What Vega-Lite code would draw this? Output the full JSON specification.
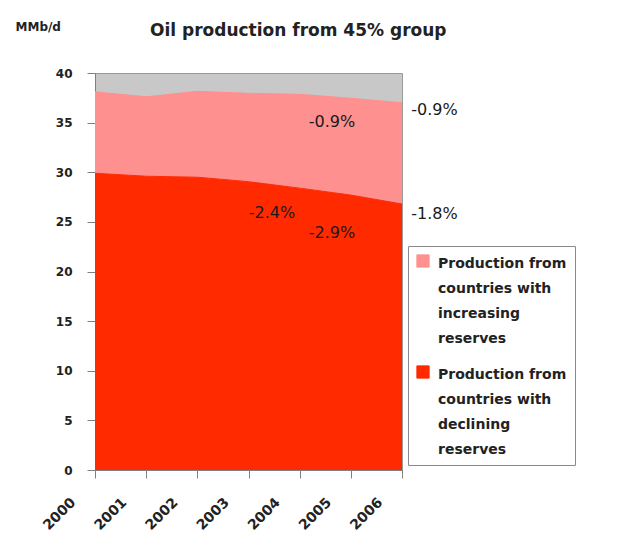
{
  "$schema": "https://vega.github.io/schema/vega-lite/v6.json",
  "width": 307,
  "height": 397,
  "autosize": {"type": "none"},
  "padding": {"left": 95, "top": 73, "right": 235, "bottom": 80},
  "background": "white",
  "config": {
    "font": "DejaVu Sans",
    "view": {"fill": "#c8c8c8", "stroke": "#9a9a9a", "strokeWidth": 1}
  },
  "title": {
    "text": "Oil production from 45% group",
    "anchor": "start",
    "frame": "group",
    "dx": 55,
    "offset": 0,
    "dy": 20,
    "fontSize": 17,
    "fontWeight": "bold",
    "color": "#222222",
    "font": "DejaVu Sans"
  },
  "datasets": {
    "prod": [
      {"year": 2000, "series": "Production from countries with declining reserves", "value": 29.9},
      {"year": 2001, "series": "Production from countries with declining reserves", "value": 29.6},
      {"year": 2002, "series": "Production from countries with declining reserves", "value": 29.5},
      {"year": 2003, "series": "Production from countries with declining reserves", "value": 29.05},
      {"year": 2004, "series": "Production from countries with declining reserves", "value": 28.4},
      {"year": 2005, "series": "Production from countries with declining reserves", "value": 27.7},
      {"year": 2006, "series": "Production from countries with declining reserves", "value": 26.8},
      {"year": 2000, "series": "Production from countries with increasing reserves", "value": 8.2},
      {"year": 2001, "series": "Production from countries with increasing reserves", "value": 8.0},
      {"year": 2002, "series": "Production from countries with increasing reserves", "value": 8.65},
      {"year": 2003, "series": "Production from countries with increasing reserves", "value": 8.9},
      {"year": 2004, "series": "Production from countries with increasing reserves", "value": 9.45},
      {"year": 2005, "series": "Production from countries with increasing reserves", "value": 9.75},
      {"year": 2006, "series": "Production from countries with increasing reserves", "value": 10.2}
    ],
    "inner": [
      {"x": 2004.63, "y": 35.1, "label": "-0.9%"},
      {"x": 2003.46, "y": 25.85, "label": "-2.4%"},
      {"x": 2004.63, "y": 23.83, "label": "-2.9%"}
    ],
    "outer": [
      {"x": 2006.18, "y": 36.3, "label": "-0.9%"},
      {"x": 2006.18, "y": 25.75, "label": "-1.8%"}
    ]
  },
  "layer": [
    {
      "data": {"name": "prod"},
      "mark": {"type": "area", "opacity": 1, "line": {"color": "#555555", "strokeWidth": 1}},
      "encoding": {
        "x": {
          "field": "year",
          "type": "quantitative",
          "scale": {"domain": [2000, 2006], "nice": false, "zero": false},
          "axis": {
            "title": null,
            "values": [2000, 2001, 2002, 2003, 2004, 2005, 2006],
            "format": "d",
            "labelAngle": -45,
            "labelFontSize": 14,
            "labelFontWeight": "bold",
            "labelColor": "#222222",
            "labelPadding": 17,
            "labelOffset": -27,
            "tickSize": 8,
            "tickColor": "#808080",
            "domainColor": "#808080",
            "grid": false
          }
        },
        "y": {
          "field": "value",
          "type": "quantitative",
          "stack": "zero",
          "scale": {"domain": [0, 40], "nice": false},
          "axis": {
            "title": "MMb/d",
            "titleAngle": 0,
            "titleAlign": "left",
            "titleBaseline": "middle",
            "titleX": -80,
            "titleY": -47,
            "titleFontSize": 12,
            "titleFontWeight": "bold",
            "titleColor": "#222222",
            "values": [0, 5, 10, 15, 20, 25, 30, 35, 40],
            "labelFontSize": 12,
            "labelFontWeight": "bold",
            "labelColor": "#222222",
            "labelPadding": 15,
            "tickSize": 8,
            "tickColor": "#808080",
            "domainColor": "#808080",
            "grid": false
          }
        },
        "order": {"field": "series", "sort": "ascending"},
        "color": {
          "field": "series",
          "type": "nominal",
          "scale": {
            "domain": ["Production from countries with increasing reserves", "Production from countries with declining reserves"],
            "range": ["#ff9090", "#ff2a00"]
          },
          "legend": {
            "title": null,
            "orient": "none",
            "legendX": 313,
            "legendY": 173,
            "fillColor": "white",
            "strokeColor": "#8a8a8a",
            "padding": 8,
            "symbolType": "square",
            "symbolSize": 150,
            "symbolStrokeColor": "#555555",
            "symbolStrokeWidth": 1,
            "symbolOpacity": 1,
            "labelFontSize": 14,
            "labelFontWeight": "bold",
            "labelColor": "#222222",
            "labelLimit": 400,
            "labelBaseline": "top",
            "labelOffset": 8,
            "rowPadding": 17,
            "labelExpr": "indexof(datum.label, 'increasing') >= 0 ? ['Production from', 'countries with', 'increasing', 'reserves'] : ['Production from', 'countries with', 'declining', 'reserves']",
            "encode": {"labels": {"update": {"lineHeight": {"value": 25}, "dy": {"value": -4}}}}
          }
        }
      }
    },
    {
      "data": {"name": "inner"},
      "mark": {"type": "text", "align": "center", "baseline": "middle", "fontSize": 16, "color": "#1a1a1a"},
      "encoding": {
        "x": {"field": "x", "type": "quantitative"},
        "y": {"field": "y", "type": "quantitative"},
        "text": {"field": "label"}
      }
    },
    {
      "data": {"name": "outer"},
      "mark": {"type": "text", "align": "left", "baseline": "middle", "fontSize": 16, "color": "#1a1a1a", "clip": false},
      "encoding": {
        "x": {"field": "x", "type": "quantitative"},
        "y": {"field": "y", "type": "quantitative"},
        "text": {"field": "label"}
      }
    }
  ]
}
